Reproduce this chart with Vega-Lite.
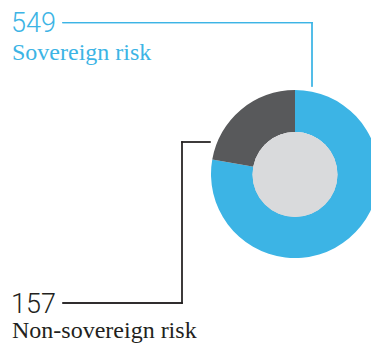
{
  "$schema": "https://vega.github.io/schema/vega-lite/v6.json",
  "width": 371,
  "height": 344,
  "autosize": {"type": "none"},
  "padding": 0,
  "background": "white",
  "config": {"view": {"stroke": null}},
  "data": {"values": [
    {"category": "Sovereign risk", "value": 549},
    {"category": "Non-sovereign risk", "value": 157}
  ]},
  "layer": [
    {
      "mark": {"type": "arc", "outerRadius": 84, "innerRadius": 42},
      "encoding": {
        "x": {"datum": 295, "type": "quantitative", "scale": {"domain": [0, 371], "nice": false, "zero": false}, "axis": null},
        "y": {"datum": 174, "type": "quantitative", "scale": {"domain": [0, 344], "nice": false, "zero": false, "reverse": true}, "axis": null},
        "theta": {"field": "value", "type": "quantitative", "stack": true},
        "color": {"field": "category", "type": "nominal", "scale": {"domain": ["Sovereign risk", "Non-sovereign risk"], "range": ["#3cb4e5", "#58595b"]}, "legend": null},
        "order": {"field": "value", "type": "quantitative", "sort": "descending"}
      }
    },
    {
      "mark": {"type": "point", "shape": "circle", "filled": true, "color": "#d9dadc", "opacity": 1, "size": 7225, "strokeWidth": 0},
      "encoding": {
        "x": {"datum": 295, "type": "quantitative"},
        "y": {"datum": 174.5, "type": "quantitative"}
      }
    },
    {
      "mark": {"type": "rule", "color": "#3cb4e5", "strokeWidth": 1.3, "strokeCap": "square"},
      "encoding": {
        "x": {"datum": 63, "type": "quantitative"},
        "x2": {"datum": 312},
        "y": {"datum": 22.7, "type": "quantitative"}
      }
    },
    {
      "mark": {"type": "rule", "color": "#3cb4e5", "strokeWidth": 1.3, "strokeCap": "square"},
      "encoding": {
        "x": {"datum": 312, "type": "quantitative"},
        "y": {"datum": 22.7, "type": "quantitative"},
        "y2": {"datum": 86}
      }
    },
    {
      "mark": {"type": "rule", "color": "#231f20", "strokeWidth": 1.3, "strokeCap": "square"},
      "encoding": {
        "x": {"datum": 63, "type": "quantitative"},
        "x2": {"datum": 182},
        "y": {"datum": 303, "type": "quantitative"}
      }
    },
    {
      "mark": {"type": "rule", "color": "#231f20", "strokeWidth": 1.3, "strokeCap": "square"},
      "encoding": {
        "x": {"datum": 182, "type": "quantitative"},
        "y": {"datum": 142, "type": "quantitative"},
        "y2": {"datum": 303}
      }
    },
    {
      "mark": {"type": "rule", "color": "#231f20", "strokeWidth": 1.3, "strokeCap": "square"},
      "encoding": {
        "x": {"datum": 182, "type": "quantitative"},
        "x2": {"datum": 210},
        "y": {"datum": 142, "type": "quantitative"}
      }
    },
    {
      "transform": [{"filter": "datum.category === 'Sovereign risk'"}],
      "mark": {"type": "text", "align": "left", "baseline": "alphabetic", "font": "Roboto", "fontWeight": 300, "fontSize": 27, "color": "#3cb4e5"},
      "encoding": {
        "x": {"datum": 11, "type": "quantitative"},
        "y": {"datum": 31.5, "type": "quantitative"},
        "text": {"field": "value"}
      }
    },
    {
      "transform": [{"filter": "datum.category === 'Sovereign risk'"}],
      "mark": {"type": "text", "align": "left", "baseline": "alphabetic", "font": "Liberation Serif", "fontSize": 24, "color": "#3cb4e5"},
      "encoding": {
        "x": {"datum": 12, "type": "quantitative"},
        "y": {"datum": 59.5, "type": "quantitative"},
        "text": {"field": "category"}
      }
    },
    {
      "transform": [{"filter": "datum.category === 'Non-sovereign risk'"}],
      "mark": {"type": "text", "align": "left", "baseline": "alphabetic", "font": "Roboto", "fontWeight": 300, "fontSize": 27, "color": "#231f20"},
      "encoding": {
        "x": {"datum": 11, "type": "quantitative"},
        "y": {"datum": 313, "type": "quantitative"},
        "text": {"field": "value"}
      }
    },
    {
      "transform": [{"filter": "datum.category === 'Non-sovereign risk'"}],
      "mark": {"type": "text", "align": "left", "baseline": "alphabetic", "font": "Liberation Serif", "fontSize": 24, "color": "#231f20"},
      "encoding": {
        "x": {"datum": 12, "type": "quantitative"},
        "y": {"datum": 338, "type": "quantitative"},
        "text": {"field": "category"}
      }
    }
  ]
}
